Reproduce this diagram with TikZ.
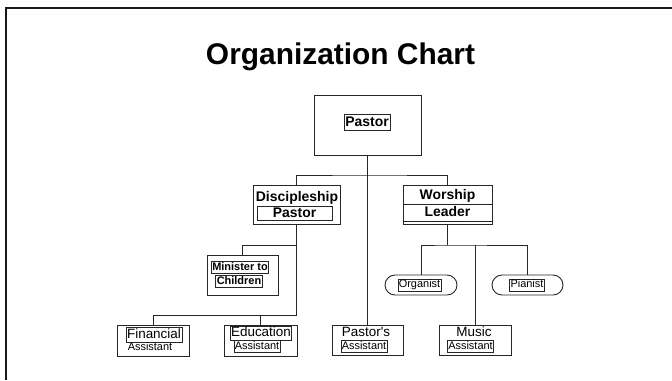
\documentclass[tikz,border=0pt]{standalone}
\usepackage{fontspec}
\setmainfont{Liberation Sans}
\usetikzlibrary{positioning}

\tikzset{
  unitbox/.style={draw=black!85,line width=0.9bp,fill=white,inner sep=0pt},
  roundbox/.style={unitbox,rounded corners=10bp},
  tag/.style={draw=black!85,line width=0.6bp,inner sep=1.2bp},
  plain/.style={inner sep=1.2bp},
  link/.style={draw=black!85,line width=0.9bp},
  bigb/.style={font=\fontsize{14}{16}\selectfont\bfseries,text height=10.2bp,text depth=3bp},
  smallb/.style={font=\fontsize{11}{13}\selectfont\bfseries,text height=8bp,text depth=2.4bp},
  bigr/.style={font=\fontsize{13.5}{15}\selectfont,text height=9.7bp,text depth=2.8bp},
  smallr/.style={font=\fontsize{11}{13}\selectfont,text height=8bp,text depth=2.3bp},
}

\begin{document}
\begin{tikzpicture}[x=1bp,y=-1bp]
\useasboundingbox (0,0) rectangle (672,380);
% frame
\draw[line width=2bp,black!90] (6,380) -- (6,8) -- (672,8);
\node[font=\fontsize{30}{34}\selectfont\bfseries,anchor=base] (title) at (340.5,64) {Organization Chart};

% boxes
\node[unitbox,minimum width=107bp,minimum height=60bp] (pastor) at (367.5,125) {};
\node[unitbox,minimum width=87bp,minimum height=39bp] (disc) at (296.5,204.5) {};
\node[unitbox,minimum width=89bp,minimum height=39bp] (worship) at (447.5,204.5) {};
\node[unitbox,minimum width=71bp,minimum height=40bp] (minister) at (242.5,275) {};
\node[roundbox,minimum width=72bp,minimum height=20bp] (organist) at (421,285) {};
\node[roundbox,minimum width=71bp,minimum height=20bp] (pianist) at (527.5,285) {};
\node[unitbox,minimum width=72bp,minimum height=31bp] (financial) at (153,340.5) {};
\node[unitbox,minimum width=73bp,minimum height=31bp] (education) at (260.5,340.5) {};
\node[unitbox,minimum width=71bp,minimum height=30bp] (pastorasst) at (367.5,340) {};
\node[unitbox,minimum width=72bp,minimum height=30bp] (music) at (475,340) {};

% labels
\node[tag,bigb] (pastorlbl) at (367,122.5) {Pastor};
\node[plain,bigb] (disclbl) at (297,198) {Discipleship};
\node[tag,bigb,minimum width=75bp,inner sep=0.6bp] (disclbl2) at (294.5,213.5) {Pastor};
\node[plain,bigb] (worshiplbl) at (447.5,195.5) {Worship};
\node[plain,bigb] (worshiplbl2) at (447.5,213) {Leader};
\draw[black!85,line width=0.8bp] ([yshift=-19.5bp]worship.north west) -- ([yshift=-19.5bp]worship.north east);
\draw[black!85,line width=0.8bp] ([yshift=3bp]worship.south west) -- ([yshift=3bp]worship.south east);
\node[tag,smallb,line width=0.9bp] (minlbl) at (240,267.5) {Minister to};
\node[tag,smallb,line width=0.9bp] (minlbl2) at (239,281.5) {Children};
\node[tag,smallr,inner sep=0.8bp] (orglbl) at (419.5,285) {Organist};
\node[tag,smallr,inner sep=0.8bp] (pialbl) at (527,285) {Pianist};
\node[tag,bigr] (finlbl) at (154,335) {Financial};
\node[plain,smallr] (finlbl2) at (150,348) {Assistant};
\node[tag,bigr,inner sep=0.8bp] (edulbl) at (261,333) {Education};
\node[tag,smallr,inner sep=0.8bp] (edulbl2) at (257,346.5) {Assistant};
\node[plain,bigr] (palbl) at (366,333) {Pastor\textquotesingle s};
\node[tag,smallr,inner sep=0.8bp] (palbl2) at (364,346.5) {Assistant};
\node[plain,bigr] (muslbl) at (474,333) {Music};
\node[tag,smallr,inner sep=0.8bp] (muslbl2) at (470.5,346.5) {Assistant};

% connectors
\coordinate (topbus) at (367.5,175);
\coordinate (worshipbus) at (447.5,245);
\coordinate (minbus) at (296.5,245);
\coordinate (asstbus) at (296.5,315);
\draw[link] (pastor.south) -- (pastorasst.north);
\draw[link] (disc.north) |- (topbus) -| (worship.north);
\draw[link] (worship.south) -- (worshipbus);
\draw[link] (organist.north) |- (worshipbus) -| (pianist.north);
\draw[link] (music.north) -- (music.north |- worshipbus);
\draw[link] (disc.south) -- (asstbus) -| (financial.north);
\draw[link] (minister.north) |- (minbus);
\draw[link] (education.north) -- (education.north |- asstbus);
\end{tikzpicture}
\end{document}
